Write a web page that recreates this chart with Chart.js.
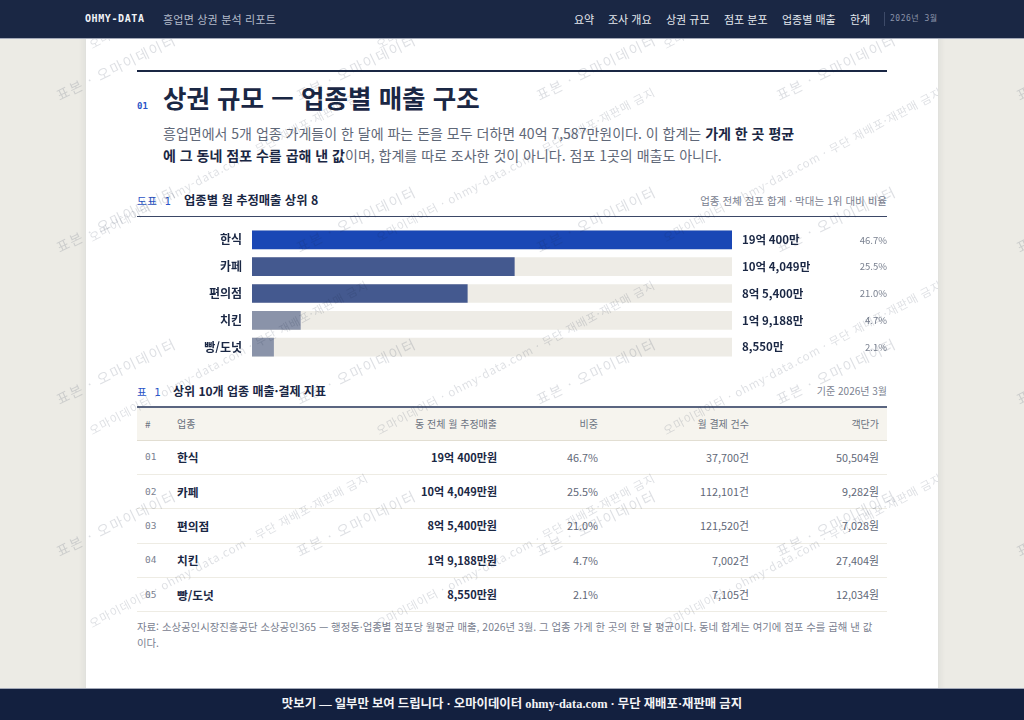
<!DOCTYPE html>
<html lang="ko">
<head>
<meta charset="utf-8">
<title>상권 규모</title>
<script src="https://cdn.jsdelivr.net/npm/chart.js@4"></script>
<style>
  * { box-sizing: border-box; margin: 0; padding: 0; }
  html, body { width: 1024px; height: 720px; overflow: hidden; }
  body { position: relative; background: #ecebe5; color: #1a2744; font-family: "Noto Sans CJK KR", "Noto Sans", sans-serif; }
  .abs { position: absolute; white-space: nowrap; }
  .mono { font-family: "DejaVu Sans Mono", "Noto Sans CJK KR", monospace; }

  header { position: absolute; z-index: 5; left: 0; top: 0; width: 1024px; height: 39px; background: #1a2744; border-bottom: 1px solid #a3a9b8; }
  header .abs { top: 11px; line-height: 16px; }
  #nav span { position: absolute; top: 11px; line-height: 16px; font-size: 11px; color: #e4e7ee; white-space: nowrap; }

  #sheet { position: absolute; left: 86px; top: 0; width: 852px; height: 720px; background: #fff; box-shadow: -3px 0 6px rgba(26,39,68,.05), 3px 0 6px rgba(26,39,68,.05); }
  .rule { position: absolute; left: 137px; width: 750px; }
  #lead { position: absolute; left: 163px; top: 122px; width: 660px; font-size: 14px; line-height: 22px; color: #5f6878; white-space: nowrap; }
  #lead b { color: #1a2744; font-weight: 700; }

  #chartBox { position: absolute; left: 137px; top: 226px; width: 750px; height: 135px; }

  table { position: absolute; left: 137px; top: 408px; width: 750px; border-collapse: collapse; table-layout: fixed; }
  th { height: 32px; font-size: 10px; font-weight: 400; color: #6b7280; background: #f6f4ee; border-bottom: 1px solid #e2ded2; text-align: right; padding: 0 8px; }
  td { height: 34.4px; padding: 0 8px 1px; font-size: 10.8px; color: #5f6878; border-bottom: 1px solid #eeece4; text-align: right; white-space: nowrap; }
  th.left, td.left { text-align: left; }
  td.rank { font-family: "DejaVu Sans Mono", monospace; font-size: 9.5px; color: #7a8190; }
  td.name { font-size: 11.7px; font-weight: 700; color: #1a2744; }
  td.strong { font-size: 11px; font-weight: 700; color: #1a2744; }

  #note { position: absolute; left: 137px; top: 619px; width: 750px; font-size: 10.4px; line-height: 16px; color: #7a8190; white-space: nowrap; }

  #wmAll, #wmSheet { position: absolute; top: 0; height: 720px; overflow: hidden; pointer-events: none; z-index: 3; }
  #wmAll { left: 0; width: 1024px; }
  #wmSheet { left: 86px; width: 852px; }
  .wm { position: absolute; white-space: nowrap; transform-origin: 0 100%; color: rgba(30,40,70,.15); line-height: 1; }

  footer { position: absolute; z-index: 5; left: 0; top: 688px; width: 1024px; height: 32px; background: #13203f; border-top: 1px solid #a3a9b8; color: #f3f4f7; font-size: 12.4px; font-weight: 700; text-align: center; line-height: 30px; font-family: "Liberation Serif", "Noto Sans CJK KR", serif; }
</style>
</head>
<body>
<div id="sheet"></div>

<header>
  <div class="abs mono" style="left:85px;font-size:10px;font-weight:700;letter-spacing:.6px;color:#f1f3f7">OHMY-DATA</div>
  <div class="abs" style="left:163px;font-size:11px;letter-spacing:.2px;color:#b4bbca">흥업면 상권 분석 리포트</div>
  <div id="nav"></div>
  <div class="abs" style="left:884px;top:12px;width:1px;height:14px;background:#3d4a68"></div>
  <div class="abs mono" style="left:890px;font-size:8px;letter-spacing:.5px;color:#8a93a9">2026년 3월</div>
</header>

<div class="rule" style="top:70px;height:2px;background:#1a2744"></div>
<div class="abs mono" style="left:137px;top:99px;font-size:9px;line-height:14px;font-weight:700;color:#2b55c7">01</div>
<div class="abs" style="left:163px;top:78px;font-size:25.5px;line-height:38px;font-weight:700;color:#1a2744">상권 규모 — 업종별 매출 구조</div>
<div id="lead">흥업면에서 5개 업종 가게들이 한 달에 파는 돈을 모두 더하면 40억 7,587만원이다. 이 합계는 <b>가게 한 곳 평균</b><br><b>에 그 동네 점포 수를 곱해 낸 값</b>이며, 합계를 따로 조사한 것이 아니다. 점포 1곳의 매출도 아니다.</div>

<div class="abs mono" style="left:137px;top:193px;font-size:10.5px;line-height:16px;letter-spacing:.6px;color:#2b55c7">도표 1</div>
<div class="abs" style="left:184px;top:192px;font-size:12.3px;line-height:16px;font-weight:700;color:#1a2744">업종별 월 추정매출 상위 8</div>
<div class="abs" style="right:137px;top:193px;font-size:10.5px;line-height:16px;color:#7a8190">업종 전체 점포 합계 · 막대는 1위 대비 비율</div>
<div class="rule" style="top:216px;height:1px;background:#3b4766"></div>

<div id="chartBox"><canvas id="salesChart"></canvas></div>

<div class="abs mono" style="left:137px;top:384px;font-size:10.5px;line-height:16px;font-weight:400;letter-spacing:.6px;color:#2b55c7">표 1</div>
<div class="abs" style="left:173px;top:383px;font-size:12px;line-height:16px;font-weight:700;color:#1a2744">상위 10개 업종 매출·결제 지표</div>
<div class="abs" style="right:137px;top:383px;font-size:10px;line-height:16px;color:#7a8190">기준 2026년 3월</div>
<div class="rule" style="top:406px;height:2px;background:#5a6580"></div>

<table id="metrics"></table>

<div id="note">자료: 소상공인시장진흥공단 소상공인365 — 행정동·업종별 점포당 월평균 매출, 2026년 3월. 그 업종 가게 한 곳의 한 달 평균이다. 동네 합계는 여기에 점포 수를 곱해 낸 값<br>이다.</div>

<div id="wmAll"></div>
<div id="wmSheet"></div>

<footer>맛보기 — 일부만 보여 드립니다 · 오마이데이터 ohmy-data.com · 무단 재배포·재판매 금지</footer>

<script>
const categories = ['한식', '카페', '편의점', '치킨', '빵/도넛']
// 단위: 만원
const salesValues = [190400, 104049, 85400, 19188, 8550]
const salesLabels = ['19억 400만', '10억 4,049만', '8억 5,400만', '1억 9,188만', '8,550만']
const shareLabels = ['46.7%', '25.5%', '21.0%', '4.7%', '2.1%']
const tableColumns = ['#', '업종', '동 전체 월 추정매출', '비중', '월 결제 건수', '객단가']
const tableRanks = ['01', '02', '03', '04', '05']
const tableSales = ['19억 400만원', '10억 4,049만원', '8억 5,400만원', '1억 9,188만원', '8,550만원']
const tableCounts = ['37,700건', '112,101건', '121,520건', '7,002건', '7,105건']
const tablePrices = ['50,504원', '9,282원', '7,028원', '27,404원', '12,034원']
const navItems = ['요약', '조사 개요', '상권 규모', '점포 분포', '업종별 매출', '한계']

const barColors = ['#1a47b5', '#44598f', '#44598f', '#8a93a9', '#8a93a9']
const navLeft = [574, 608, 666, 724, 782, 850]

navItems.forEach((item, i) => {
  const el = document.createElement('span')
  el.textContent = item
  el.style.left = navLeft[i] + 'px'
  document.getElementById('nav').appendChild(el)
})

// Value and share columns sit to the right of the track, so they are drawn after the bars.
const rowLabels = {
  id: 'rowLabels',
  afterDatasetsDraw(chart) {
    const { ctx, scales: { y }, width } = chart
    ctx.save()
    ctx.textBaseline = 'middle'
    categories.forEach((_, i) => {
      const py = y.getPixelForValue(i)
      ctx.textAlign = 'left'
      ctx.fillStyle = '#1a2744'
      ctx.font = '700 11.5px "Noto Sans CJK KR"'
      ctx.fillText(salesLabels[i], chart.chartArea.right + 10, py)
      ctx.textAlign = 'right'
      ctx.fillStyle = '#7a8190'
      ctx.font = '400 9.5px "Noto Sans CJK KR"'
      ctx.fillText(shareLabels[i], width, py)
    })
    ctx.restore()
  }
}

new Chart(document.getElementById('salesChart'), {
  type: 'bar',
  data: {
    labels: categories,
    datasets: [
      { data: salesValues, backgroundColor: barColors, barThickness: 18, order: 1 },
      // Pale track behind every bar, always as long as the largest value
      { data: categories.map(() => Math.max(...salesValues)), backgroundColor: '#eeece6', barThickness: 18, order: 2 }
    ]
  },
  plugins: [rowLabels],
  options: {
    indexAxis: 'y',
    responsive: true,
    maintainAspectRatio: false,
    animation: false,
    layout: { padding: { top: 0.5, bottom: 0.5, right: 155, left: 0 } },
    scales: {
      x: { display: false, min: 0, max: Math.max(...salesValues) },
      y: {
        stacked: true, // same slot for bar and track; values stay unstacked on x
        border: { display: false },
        grid: { display: false, drawTicks: false },
        afterFit: (axis) => {
          axis.width = 115
          // Labels stay inside their rows, so no room is needed above or below the axis
          axis.paddingTop = 0
          axis.paddingBottom = 0
        },
        ticks: { padding: 10, color: '#1a2744', font: { family: '"Noto Sans CJK KR"', size: 12, weight: 700 } }
      }
    },
    plugins: { legend: { display: false }, tooltip: { enabled: false } }
  }
})

const columnWidths = [32, 168, 168, 101, 151, 130]
const alignLeft = [true, true, false, false, false, false]
let tableHtml = '<colgroup>' + columnWidths.map((w) => `<col style="width:${w}px">`).join('') + '</colgroup><tr>'
tableColumns.forEach((c, i) => { tableHtml += `<th class="${alignLeft[i] ? 'left' : ''}">${c}</th>` })
tableHtml += '</tr>'
categories.forEach((name, i) => {
  tableHtml += `<tr><td class="left rank">${tableRanks[i]}</td><td class="left name">${name}</td>` +
    `<td class="strong">${tableSales[i]}</td><td>${shareLabels[i]}</td><td>${tableCounts[i]}</td><td>${tablePrices[i]}</td></tr>`
})
document.getElementById('metrics').innerHTML = tableHtml

// Repeating watermark, two layers: one over the whole page, the long one clipped to the sheet
function stampWatermark(box, text, stepX, stepY, startX, startY, size, spacing, angle) {
  for (let y = startY; y < 700; y += stepY) {
    for (let x = startX; x < 1024; x += stepX) {
      const el = document.createElement('span')
      el.className = 'wm'
      el.textContent = text
      el.style.cssText = `left:${x}px;top:${y - size}px;font-size:${size}px;letter-spacing:${spacing}px;transform:rotate(${angle}deg)`
      box.appendChild(el)
    }
  }
}
stampWatermark(document.getElementById('wmAll'), '표본 · 오마이데이터', 240, 152, 60, 102, 14, 1.5, -26)
stampWatermark(document.getElementById('wmSheet'), '오마이데이터 · ohmy-data.com · 무단 재배포·재판매 금지', 287, 193, 7, 50, 11.5, 0.8, -28)
</script>
</body>
</html>
